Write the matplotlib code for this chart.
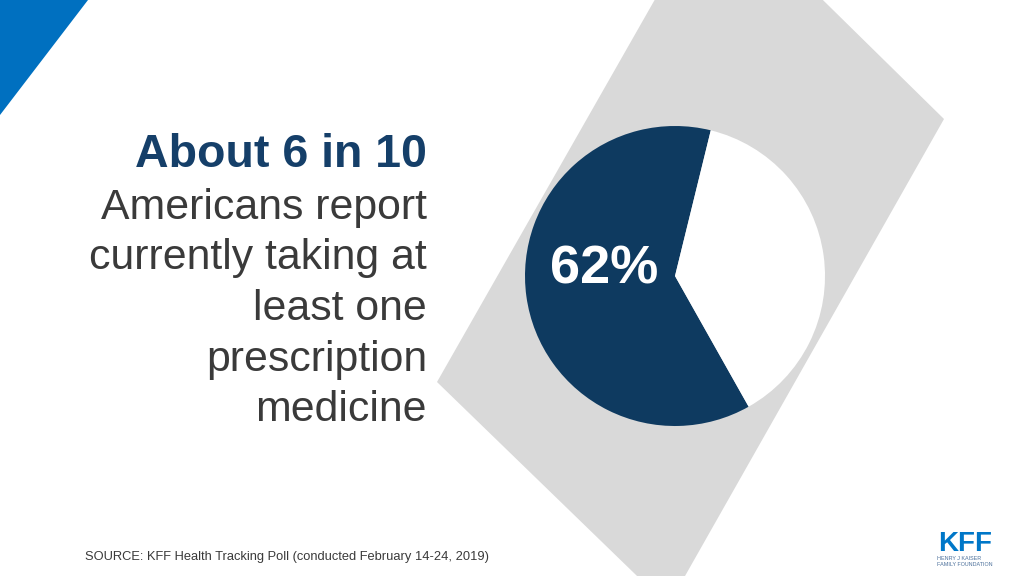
import matplotlib
matplotlib.use("Agg")
import matplotlib.pyplot as plt
from matplotlib.patches import Polygon

# ---- data ----
categories = ["Currently taking at least one prescription medicine", "Not taking"]
shares = [62, 38]
pie_label = "62%"
title_line = "About 6 in 10"
body_lines = ["Americans report", "currently taking at", "least one", "prescription", "medicine"]
source_text = "SOURCE: KFF Health Tracking Poll (conducted February 14-24, 2019)"

NAVY = "#0E3A60"
TITLE_NAVY = "#153F69"
GRAY = "#D9D9D9"
BLUE = "#0070C0"
TEXT = "#3A3A3A"

W, H = 1024, 576
fig = plt.figure(figsize=(W / 100, H / 100), dpi=100)
ax = fig.add_axes([0, 0, 1, 1])

def Y(y):  # image-row -> axis coordinate (y up)
    return H - y

# background shapes
ax.add_patch(Polygon([(0, Y(0)), (88, Y(0)), (0, Y(115))], closed=True,
                     facecolor=BLUE, edgecolor="none", zorder=1))
ax.add_patch(Polygon([(437, Y(382)), (715, Y(-106)), (944, Y(119)), (668, Y(606))],
                     closed=True, facecolor=GRAY, edgecolor="none", zorder=1))

# pie
ax.pie(shares, colors=[NAVY, "white"], startangle=76.2, counterclock=True,
       center=(675, Y(276)), radius=150, frame=True,
       wedgeprops=dict(edgecolor="none", linewidth=0, zorder=2))

ax.text(604, Y(284), pie_label, color="white", fontsize=39, fontweight="bold",
        family="Liberation Sans", ha="center", va="baseline", zorder=5)

# headline text
ax.text(427, Y(167), title_line, color=TITLE_NAVY, fontsize=33.5, fontweight="bold",
        family="Liberation Sans", ha="right", va="baseline", zorder=5)
y0 = 219
for i, line in enumerate(body_lines):
    ax.text(427, Y(y0 + 50.5 * i), line, color=TEXT, fontsize=30.8,
            family="Liberation Sans", ha="right", va="baseline", zorder=5)

# source
ax.text(85, Y(560), source_text, color=TEXT, fontsize=9.25,
        family="Liberation Sans", ha="left", va="baseline", zorder=5)

# logo
ax.text(965, Y(551), "KFF", color="#0077C8", fontsize=20, fontweight="bold",
        family="Liberation Sans", ha="center", va="baseline", zorder=5)
ax.text(937, Y(560), "HENRY J KAISER", color="#4a6f9a", fontsize=3.9,
        family="Liberation Sans", ha="left", va="baseline", zorder=5)
ax.text(937, Y(566.5), "FAMILY FOUNDATION", color="#4a6f9a", fontsize=3.9,
        family="Liberation Sans", ha="left", va="baseline", zorder=5)

ax.set_xlim(0, W)
ax.set_ylim(0, H)
ax.set_aspect("auto")
ax.axis("off")

fig.savefig("out.png", dpi=100, facecolor="white")
